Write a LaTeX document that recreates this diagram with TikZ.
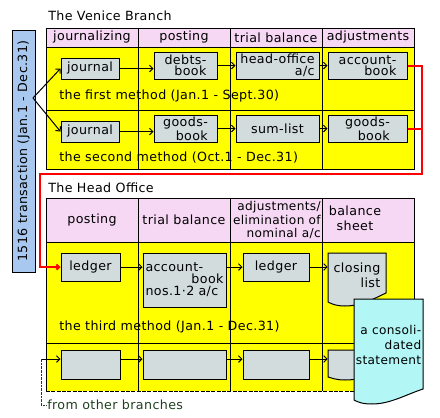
\documentclass[tikz,border=0pt]{standalone}
\usepackage{fontspec}
\setmainfont{DejaVu Sans}[LetterSpace=3]
\usetikzlibrary{arrows.meta}
\definecolor{ylw}{HTML}{FFFF00}
\definecolor{pnk}{HTML}{F6D8F4}
\definecolor{grb}{HTML}{D2DCDC}
\definecolor{lbl}{HTML}{A8C8F0}
\definecolor{cyn}{HTML}{B2F6F6}
\definecolor{rd}{HTML}{FF0000}
\definecolor{dg}{HTML}{204020}
\begin{document}
\begin{tikzpicture}[x=0.75pt,y=-0.75pt,
  every node/.style={font=\fontsize{9.5}{11}\selectfont},
  sz/.style 2 args={minimum width={#1*0.75pt}, minimum height={#2*0.75pt}},
  bx/.style={draw, fill=grb, line width=0.75pt, inner sep=0pt, align=center,
             font=\fontsize{9.5}{8.6}\selectfont},
  ln/.style={line width=0.75pt},
  ar/.style={line width=0.75pt, -{Straight Barb[length=2.5pt,width=5pt]}},
  redl/.style={rd, line width=1.5pt},
  txt/.style={inner sep=0pt},
  hd/.style={inner sep=0pt, align=center}]
\useasboundingbox (0,0) rectangle (440,418);

% ---------- The Venice Branch ----------
\node[txt, anchor=west] (vb) at (48,16) {The Venice Branch};
\fill[pnk] (46,28) rectangle (414,47);
\fill[ylw] (46,47) rectangle (414,169);
\draw[ln] (46,28) rectangle (414,169);
\draw[ln] (46,47) -- (414,47);
\draw[ln] (46,110) -- (414,110);
\foreach \x in {138,230,322} \draw[ln] (\x,28) -- (\x,169);

\node[hd] (h1) at (92,37.5) {journalizing};
\node[hd] (h2) at (184,37.5) {posting};
\node[hd] (h3) at (276,37.5) {trial balance};
\node[hd] (h4) at (368,37.5) {adjustments};

\node[txt, anchor=west] (m1) at (59,96) {the first method (Jan.1 - Sept.30)};
\node[txt, anchor=west] (m2) at (59,158) {the second method (Oct.1 - Dec.31)};

\node[bx, sz={58}{21}] (j1) at (90,68.5) {journal};
\node[bx, sz={63}{27}, align=right] (db) at (185.5,65.5) {debts-\\book};
\node[bx, sz={83}{27}, align=right] (ho) at (277.5,65.5) {head-office\\a/c};
\node[bx, sz={79}{27}, align=right] (ab) at (367.5,65.5) {account-\\book};

\node[bx, sz={58}{21}] (j2) at (90,131.5) {journal};
\node[bx, sz={63}{27}, align=right] (gb) at (185.5,128.5) {goods-\\book};
\node[bx, sz={83}{27}] (sl) at (277.5,128.5) {sum-list};
\node[bx, sz={79}{27}, align=right] (gb2) at (367.5,128.5) {goods-\\book};

\draw[ar] (j1.east) -- (j1.east -| db.west);
\draw[ar] (db.east) -- (ho.west);
\draw[ar] (ho.east) -- (ab.west);
\draw[ar] (j2.east) -- (j2.east -| gb.west);
\draw[ar] (gb.east) -- (sl.west);
\draw[ar] (sl.east) -- (gb2.west);

% ---------- left vertical box ----------
\node[draw, fill=lbl, line width=0.75pt, rotate=90, sz={242}{23}, inner sep=0pt]
  (tb) at (23.5,151) {1516 transaction (Jan.1 - Dec.31)};
\coordinate (src) at (33,98);
\draw[ar] (src) -- (j1.west);
\draw[ar] (src) -- (j2.west);

% ---------- The Head Office ----------
\node[txt, anchor=west] (ho2) at (48,188) {The Head Office};
\fill[pnk] (46,198) rectangle (414,242);
\fill[ylw] (46,242) rectangle (414,391);
\draw[ln] (46,391) -- (46,198) -- (414,198) -- (414,391);
\draw[ln, dash pattern=on 3pt off 1pt] (46,391) -- (414,391);
\draw[ln] (46,242) -- (414,242);
\draw[ln] (46,343) -- (414,343);
\foreach \x in {138,230,322} \draw[ln] (\x,198) -- (\x,391);

\node[hd] (k1) at (92,220) {posting};
\node[hd] (k2) at (184,220) {trial balance};
\node[hd, anchor=east, align=right, font=\fontsize{9.1}{10}\selectfont] (k3) at (321,220)
  {adjustments/\\elimination of\\nominal a/c};
\node[hd, font=\fontsize{9.5}{11.3}\selectfont] (k4) at (355,218.5) {balance\\sheet};

\node[txt, anchor=west] (m3) at (59,326.5) {the third method (Jan.1 - Dec.31)};

\node[bx, sz={59}{28}] (lg1) at (90.5,267) {ledger};
\node[bx, sz={83}{54}, align=left, text width={78*0.75pt},
      font=\fontsize{9.5}{9}\selectfont] (an) at (184.5,280)
  {account-\\\hskip0pt plus1fill book\\nos.1·2 a/c};
\node[bx, sz={66}{28}] (lg2) at (276,267) {ledger};

\draw[ln, fill=grb] (328,253) -- (386,253) -- (386,293)
  .. controls (375,298) and (362,306) .. (345,306)
  .. controls (336,306) and (332,304) .. (328,302) -- cycle;
\node[txt, sz={58}{40}, align=right, font=\fontsize{9.5}{11}\selectfont] (cl) at (357,275) {closing\\list};

\draw[ar] (lg1.east) -- (lg1.east -| an.west);
\draw[ar] (lg1.east -| an.east) -- (lg2.west);
\draw[ar] (lg2.east) -- (lg2.east -| cl.west);

% bottom row
\node[bx, sz={59}{29}] (b1) at (90.5,364.5) {};
\node[bx, sz={83}{29}] (b2) at (184.5,364.5) {};
\node[bx, sz={66}{29}] (b3) at (276,364.5) {};
\draw[ln, fill=grb] (328,350) -- (386,350) -- (386,370)
  .. controls (375,374) and (362,380) .. (345,380)
  .. controls (336,380) and (332,378) .. (328,377) -- cycle;
\node[txt, sz={58}{27}] (b4) at (357,363.5) {};

\coordinate (fb) at (41,359);
\draw[ar] (fb) -- (fb -| b1.west);
\draw[ar] (fb -| b1.east) -- (fb -| b2.west);
\draw[ar] (fb -| b2.east) -- (fb -| b3.west);
\draw[ar] (fb -| b3.east) -- (fb -| b4.west);
\node[txt, anchor=west, text=dg] (fob) at (47,405) {from other branches};
\draw[ln, dg, dash pattern=on 2pt off 0.75pt] (fb) |- (fob.west);

% red connector
\coordinate (rr) at (422,174);
\coordinate (rl) at (40,267);
\draw[redl] (gb2.east) -- (gb2.east -| rr);
\draw[redl, -{Straight Barb[length=2pt,width=4pt]}] (ab.east) -| (rr) -| (rl) -- (lg1.west);

% consolidated statement
\draw[ln, fill=cyn] (354,299) -- (423,299) -- (423,389)
  .. controls (405,395) and (390,404) .. (372,404)
  .. controls (362,404) and (358,402) .. (354,400) -- cycle;
\node[txt, anchor=east, align=right, font=\fontsize{9.1}{11.6}\selectfont] (cs) at (421.5,345)
  {a consoli-\\dated\\statement};
\end{tikzpicture}
\end{document}
